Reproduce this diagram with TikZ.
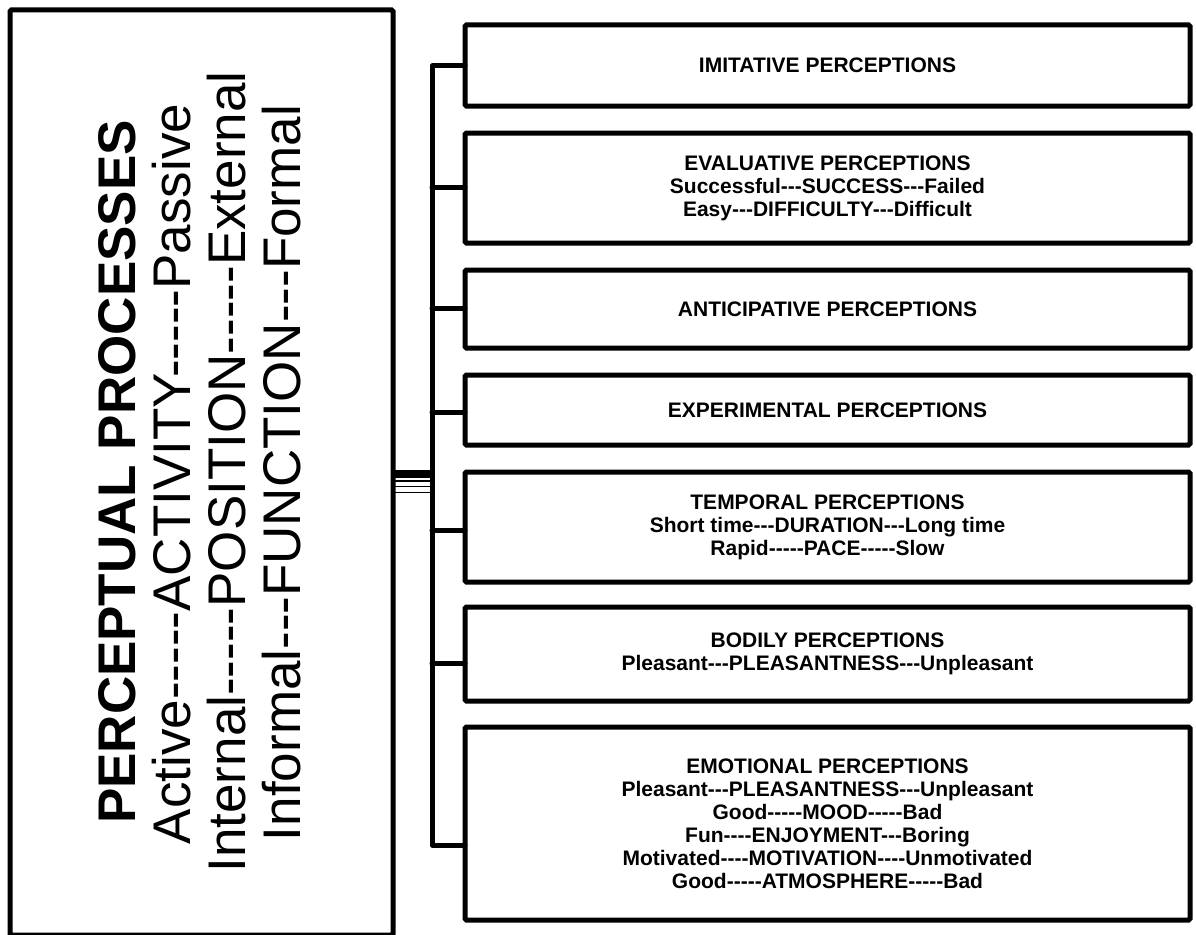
\documentclass[tikz,border=0pt]{standalone}
\usepackage{fontspec}
\setmainfont{Liberation Sans}[Ligatures=TeXOff]
\begin{document}
\begin{tikzpicture}[x=1pt,y=-1pt,
  ln/.style={line width=5pt, line join=round, line cap=round},
  box/.style={draw, line width=5pt, rounded corners=1.5pt, outer sep=0pt, minimum width=725pt, align=center, inner sep=0pt, font=\fontsize{21}{23}\selectfont\bfseries},
  side/.style={rotate=90, anchor=base, inner sep=0pt, font=\fontsize{53}{55}\selectfont},
  title/.style={rotate=90, anchor=base, inner sep=0pt, font=\fontsize{53}{55}\selectfont\bfseries}
]
\useasboundingbox (0,0) rectangle (1196,934);
\fill[white] (0,0) rectangle (1196,934);
\clip (0,0) rectangle (1196,934);

% left box
\node[draw, line width=5pt, outer sep=0pt, rounded corners=1.5pt, minimum width=383pt, minimum height=925pt, inner sep=0pt] (lb) at (201.5,472.5) {};
\node[title] (t0) at (135,472) {PERCEPTUAL PROCESSES};
\node[side] (t1) at (190,474) {Active-----ACTIVITY-----Passive};
\node[side] (t2) at (245,472) {Internal-----POSITION-----External};
\node[side] (t3) at (300,473) {Informal---FUNCTION---Formal};

% right boxes
\node[box, minimum height=81pt] (b1) at (827.5,65.5) {IMITATIVE PERCEPTIONS};
\node[box, minimum height=110pt] (b2) at (827.5,188) {EVALUATIVE PERCEPTIONS\\Successful---SUCCESS---Failed\\Easy---DIFFICULTY---Difficult};
\node[box, minimum height=78pt] (b3) at (827.5,309) {ANTICIPATIVE PERCEPTIONS};
\node[box, minimum height=70pt] (b4) at (827.5,410) {EXPERIMENTAL PERCEPTIONS};
\node[box, minimum height=110pt] (b5) at (827.5,527) {TEMPORAL PERCEPTIONS\\Short time---DURATION---Long time\\Rapid-----PACE-----Slow};
\node[box, minimum height=94pt] (b6) at (827.5,654) {BODILY PERCEPTIONS\\Pleasant---PLEASANTNESS---Unpleasant};
\node[box, minimum height=193pt] (b7) at (827.5,823.5) {EMOTIONAL PERCEPTIONS\\Pleasant---PLEASANTNESS---Unpleasant\\Good-----MOOD-----Bad\\Fun----ENJOYMENT---Boring\\Motivated----MOTIVATION----Unmotivated\\Good-----ATMOSPHERE-----Bad};

% bracket
\coordinate (top) at (432,66);
\coordinate (bot) at (432,845);
\draw[ln] (b1.west |- top) -- (top) -- (bot) -- (b7.west |- bot);
\coordinate (k2) at (432,187);
\coordinate (k3) at (432,308);
\coordinate (k4) at (432,412);
\coordinate (k5) at (432,530);
\coordinate (k6) at (432,663);
\draw[ln] (k2) -- (k2 -| b2.west);
\draw[ln] (k3) -- (k3 -| b3.west);
\draw[ln] (k4) -- (k4 -| b4.west);
\draw[ln] (k5) -- (k5 -| b5.west);
\draw[ln] (k6) -- (k6 -| b6.west);

% connectors from left box to bracket
\coordinate (c0) at (432,474);
\coordinate (c1) at (432,481);
\coordinate (c2) at (432,486.5);
\coordinate (c3) at (432,492.5);
\draw[line width=8pt] (lb.east |- c0) -- (c0);
\draw[line width=1.8pt] (lb.east |- c1) -- (c1);
\draw[line width=1.8pt] (lb.east |- c2) -- (c2);
\draw[line width=1.8pt] (lb.east |- c3) -- (c3);
\end{tikzpicture}
\end{document}
